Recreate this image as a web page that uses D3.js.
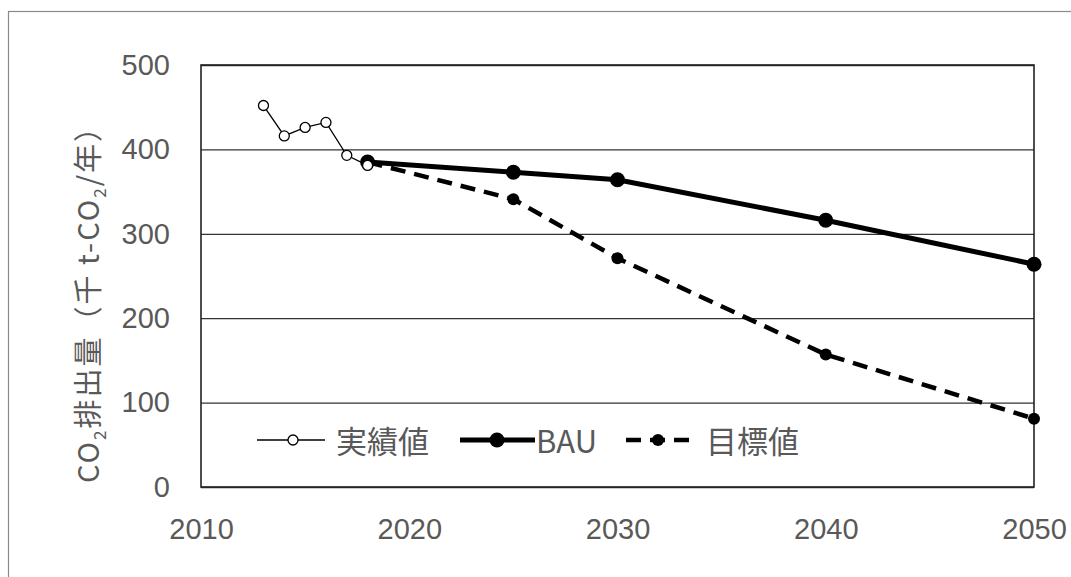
<!DOCTYPE html>
<html><head><meta charset="utf-8">
<script src="https://cdn.jsdelivr.net/npm/d3@7"></script>
<style>
html,body{margin:0;padding:0;background:#fff;}
svg{display:block;}
</style></head>
<body>
<script>
const yearsActual = [2013, 2014, 2015, 2016, 2017, 2018];
const actualValues = [452, 416, 426, 432, 393, 381];
const yearsPlan = [2018, 2025, 2030, 2040, 2050];
const bauValues = [385, 373, 364, 316, 264];
const targetValues = [385, 341, 271, 157, 81];
const xTicks = [2010, 2020, 2030, 2040, 2050];
const yTicks = [0, 100, 200, 300, 400, 500];
const seriesNames = ["実績値", "BAU", "目標値"];

const W = 1071, H = 577;
const m = {left: 201, right: 37, top: 65, bottom: 90};
const iw = W - m.left - m.right, ih = H - m.top - m.bottom;
const numFont = "'Liberation Sans','Noto Sans',sans-serif";
const jpFont = "'Noto Sans CJK JP','Noto Sans',sans-serif";
const textCol = "#595959";

const svg = d3.select("body").append("svg").attr("width", W).attr("height", H);
// outer frame
svg.append("rect").attr("x", 8.5).attr("y", 11.5).attr("width", W + 10).attr("height", H + 10)
  .attr("fill", "#fff").attr("stroke", "#8a8a8a").attr("stroke-width", 1.2);

const g = svg.append("g").attr("transform", `translate(${m.left},${m.top})`);
const x = d3.scaleLinear().domain([2010, 2050]).range([0, iw]);
const y = d3.scaleLinear().domain([0, 500]).range([ih, 0]);

const yAxis = g.append("g").call(d3.axisLeft(y).tickValues(yTicks).tickSize(-iw).tickPadding(31));
yAxis.select(".domain").remove();
yAxis.selectAll(".tick line").attr("stroke", "#333").attr("stroke-width", 1.3);
yAxis.selectAll(".tick text").attr("fill", textCol).style("font-family", numFont).style("font-size", "29px");

const xAxis = g.append("g").attr("transform", `translate(0,${ih})`)
  .call(d3.axisBottom(x).tickValues(xTicks).tickFormat(d3.format("d")).tickSize(0).tickPadding(31));
xAxis.select(".domain").remove();
xAxis.selectAll(".tick text").attr("fill", textCol).style("font-family", numFont).style("font-size", "29px");

g.append("rect").attr("x", 0).attr("y", 0).attr("width", iw).attr("height", ih)
  .attr("fill", "none").attr("stroke", "#222").attr("stroke-width", 1.6);

// y label
const yl = svg.append("text").attr("transform", "translate(99,297) rotate(-90)")
  .attr("text-anchor", "middle").attr("fill", textCol).style("font-family", jpFont)
  .style("font-size", "29px").style("letter-spacing", "2px");
yl.append("tspan").text("CO");
yl.append("tspan").attr("dy", 7).style("font-size", "17px").text("2");
yl.append("tspan").attr("dy", -7).text("排出量（千 t-CO");
yl.append("tspan").attr("dy", 7).style("font-size", "17px").text("2");
yl.append("tspan").attr("dy", -7).text("/年）");

const line = d3.line().x(d => x(d[0])).y(d => y(d[1]));
const actual = yearsActual.map((d, i) => [d, actualValues[i]]);
const bau = yearsPlan.map((d, i) => [d, bauValues[i]]);
const target = yearsPlan.map((d, i) => [d, targetValues[i]]);

// target
g.append("path").datum(target).attr("d", line).attr("fill", "none").attr("stroke", "#000")
  .attr("stroke-width", 4.5).attr("stroke-dasharray", "15,9");
g.selectAll(".tp").data(target).join("circle").attr("cx", d => x(d[0])).attr("cy", d => y(d[1]))
  .attr("r", 6).attr("fill", "#000");
// bau
g.append("path").datum(bau).attr("d", line).attr("fill", "none").attr("stroke", "#000").attr("stroke-width", 5);
g.selectAll(".bp").data(bau).join("circle").attr("cx", d => x(d[0])).attr("cy", d => y(d[1]))
  .attr("r", 7.5).attr("fill", "#000");
// actual
g.append("path").datum(actual).attr("d", line).attr("fill", "none").attr("stroke", "#000").attr("stroke-width", 1.3);
g.selectAll(".ap").data(actual).join("circle").attr("cx", d => x(d[0])).attr("cy", d => y(d[1]))
  .attr("r", 5).attr("fill", "#fff").attr("stroke", "#000").attr("stroke-width", 1.3);

// legend
const ly = 440;
const lg = svg.append("g");
// 実績値
lg.append("line").attr("x1", 257).attr("x2", 325).attr("y1", ly).attr("y2", ly).attr("stroke", "#000").attr("stroke-width", 1.3);
lg.append("circle").attr("cx", 293).attr("cy", ly).attr("r", 5).attr("fill", "#fff").attr("stroke", "#000").attr("stroke-width", 1.3);
lg.append("text").attr("x", 336).attr("y", ly + 13).text(seriesNames[0]);
// BAU
lg.append("line").attr("x1", 460).attr("x2", 535).attr("y1", ly).attr("y2", ly).attr("stroke", "#000").attr("stroke-width", 5);
lg.append("circle").attr("cx", 497).attr("cy", ly).attr("r", 7.5).attr("fill", "#000");
lg.append("text").attr("x", 536).attr("y", ly + 13).text(seriesNames[1]);
// 目標値
lg.append("line").attr("x1", 626).attr("x2", 694).attr("y1", ly).attr("y2", ly).attr("stroke", "#000").attr("stroke-width", 4.5).attr("stroke-dasharray", "15,9");
lg.append("circle").attr("cx", 658).attr("cy", ly).attr("r", 6).attr("fill", "#000");
lg.append("text").attr("x", 706).attr("y", ly + 13).text(seriesNames[2]);
lg.selectAll("text").attr("fill", textCol).style("font-family", jpFont).style("font-size", "31px");
</script>
</body></html>
